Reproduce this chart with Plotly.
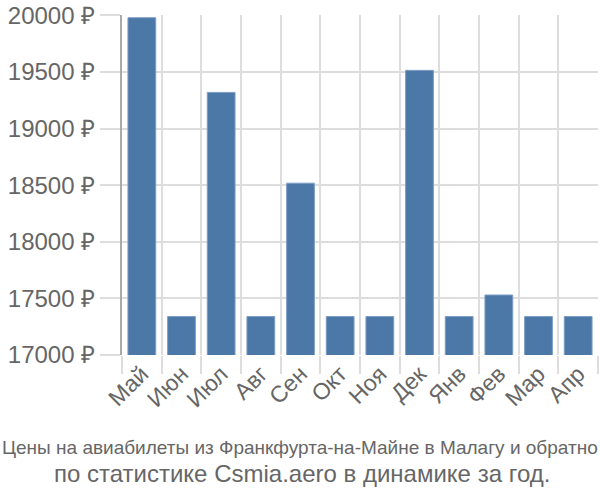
import plotly.graph_objects as go

months = ["Май", "Июн", "Июл", "Авг", "Сен", "Окт", "Ноя", "Дек", "Янв", "Фев", "Мар", "Апр"]
prices = [19980, 17340, 19320, 17340, 18518, 17340, 17340, 19515, 17340, 17530, 17340, 17340]
y_ticks = [17000, 17500, 18000, 18500, 19000, 19500, 20000]
y_tick_labels = [f"{v} ₽" for v in y_ticks]
title_line1 = "Цены на авиабилеты из Франкфурта-на-Майне в Малагу и обратно"
title_line2 = "по статистике Csmia.aero в динамике за год."

W, H = 600, 500
L, R, T, B = 122, 2, 15, 145

fig = go.Figure()
fig.add_trace(go.Bar(
    x=months, y=prices,
    marker=dict(color="#4c78a8", line=dict(color="#7d9dc4", width=1)),
    width=0.7,
))

plot_h = H - T - B
plot_w = W - L - R

def px_to_paper_x(px):
    return (px - L) / plot_w

def px_to_paper_y(py):
    return (H - B - py) / plot_h

fig.update_layout(
    width=W, height=H,
    margin=dict(l=L, r=R, t=T, b=B, autoexpand=False),
    plot_bgcolor="white", paper_bgcolor="white",
    font=dict(family="Liberation Sans, Arial, sans-serif", color="#666666", size=24),
    showlegend=False,
    xaxis=dict(
        type="category",
        automargin=False,
        tickson="boundaries",
        ticks="outside", ticklen=18, tickcolor="#dddddd", tickwidth=2,
        showgrid=True, gridcolor="#dddddd", gridwidth=2,
        tickangle=-45,
        tickfont=dict(size=23, color="#666666"),
        showline=False,
    ),
    yaxis=dict(
        automargin=False,
        range=[17000, 20004],
        tickvals=y_ticks, ticktext=y_tick_labels,
        ticks="outside", ticklen=20, tickcolor="#dddddd", tickwidth=2,
        showgrid=True, gridcolor="#dddddd", gridwidth=2,
        showline=True, linecolor="#aaaaaa", linewidth=2,
        zeroline=False,
        ticklabeloverflow="allow",
        tickfont=dict(size=24, color="#666666"),
    ),
    annotations=[
        dict(text=title_line1, x=px_to_paper_x(300), y=px_to_paper_y(447),
             xref="paper", yref="paper", showarrow=False, xanchor="center", yanchor="middle",
             font=dict(size=19, color="#666666")),
        dict(text=title_line2, x=px_to_paper_x(302), y=px_to_paper_y(473),
             xref="paper", yref="paper", showarrow=False, xanchor="center", yanchor="middle",
             font=dict(size=24, color="#666666")),
    ],
)

fig.write_html("out.html", config={"displayModeBar": False},
               post_script="document.body.style.margin='0';")
